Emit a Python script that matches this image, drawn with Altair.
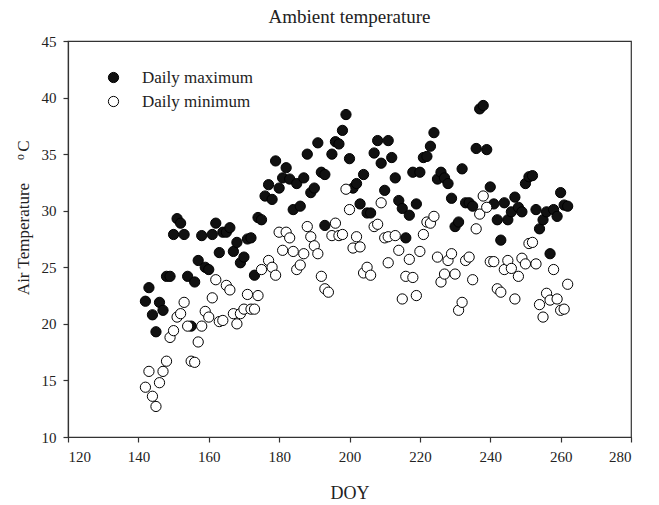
import altair as alt
import pandas as pd

max_doy = [142, 143, 144, 145, 146, 147, 148, 149, 150, 151, 152, 153, 154, 155, 156, 157,
           158, 159, 160, 161, 162, 163, 164, 165, 166, 167, 168, 169, 170, 171, 172, 173,
           174, 175, 176, 177, 178, 179, 180, 181, 182, 183, 184, 185, 186, 187, 188, 189,
           190, 191, 192, 193, 193, 195, 196, 197, 198, 199, 200, 201, 202, 203, 204, 205,
           206, 207, 208, 209, 210, 211, 212, 213, 214, 215, 216, 217, 218, 219, 220, 221,
           222, 223, 224, 225, 226, 227, 228, 229, 230, 231, 232, 233, 234, 235, 236, 237,
           238, 239, 240, 241, 242, 243, 244, 245, 246, 247, 248, 249, 250, 251, 252, 253,
           254, 255, 256, 257, 258, 259, 260, 261, 262]
max_temp = [22.0, 23.2, 20.8, 19.3, 21.9, 21.2, 24.2, 24.2, 27.9, 29.3, 28.9, 27.9, 24.2, 19.8, 23.7, 25.6,
            27.8, 25.0, 24.8, 27.9, 28.9, 26.3, 28.1, 28.1, 28.5, 26.4, 27.2, 25.4, 25.9, 27.5, 27.6, 24.3,
            29.4, 29.2, 31.3, 32.3, 31.0, 34.4, 32.0, 32.9, 33.8, 32.8, 30.1, 32.4, 30.4, 32.9, 35.0, 31.6,
            32.0, 36.0, 33.4, 33.2, 28.7, 35.0, 36.1, 35.9, 37.1, 38.5, 34.6, 32.0, 32.4, 30.6, 33.2, 29.8,
            29.8, 35.1, 36.2, 34.2, 31.8, 36.2, 34.7, 32.9, 30.9, 30.2, 27.6, 29.6, 33.4, 30.6, 33.4, 34.7,
            34.8, 35.7, 36.9, 32.8, 33.4, 32.9, 32.4, 31.1, 28.6, 29.0, 33.7, 30.7, 30.7, 30.4, 35.5, 39.0,
            39.3, 35.4, 32.1, 30.6, 29.2, 27.4, 30.7, 29.2, 29.9, 31.2, 30.3, 29.9, 32.4, 33.0, 33.1, 30.1,
            28.4, 29.2, 29.9, 26.2, 30.1, 29.5, 31.6, 30.5, 30.4]

min_doy = [142, 143, 144, 145, 146, 147, 148, 149, 150, 151, 152, 153, 154, 155, 156, 157,
           158, 159, 160, 161, 162, 163, 164, 165, 166, 167, 168, 169, 170, 171, 172, 173,
           174, 175, 177, 178, 179, 180, 181, 182, 183, 184, 185, 186, 187, 188, 189, 190,
           191, 192, 193, 194, 195, 196, 197, 198, 199, 200, 201, 202, 203, 204, 205, 206,
           207, 208, 209, 210, 211, 211, 213, 214, 215, 216, 217, 218, 219, 220, 221, 222,
           223, 224, 225, 226, 227, 228, 229, 230, 231, 232, 233, 234, 235, 236, 237, 238,
           239, 240, 241, 242, 243, 244, 245, 246, 247, 248, 249, 250, 251, 252, 253, 254,
           255, 256, 257, 258, 259, 260, 261, 262]
min_temp = [14.4, 15.8, 13.6, 12.7, 14.8, 15.8, 16.7, 18.8, 19.4, 20.6, 20.9, 21.9, 19.8, 16.7, 16.6, 18.4,
            19.8, 21.1, 20.6, 22.3, 23.9, 20.2, 20.3, 23.4, 23.0, 20.9, 20.0, 20.9, 21.3, 22.6, 21.3, 21.3,
            22.5, 24.8, 25.6, 25.0, 24.3, 28.1, 26.5, 28.1, 27.6, 26.4, 24.8, 25.2, 26.2, 28.6, 27.7, 26.9,
            26.2, 24.2, 23.1, 22.8, 27.8, 28.9, 27.8, 27.9, 31.9, 30.1, 26.7, 27.7, 26.8, 24.5, 25.0, 24.3,
            28.6, 28.8, 30.7, 27.6, 27.7, 25.4, 27.8, 26.5, 22.2, 24.2, 25.7, 24.1, 22.5, 26.4, 27.9, 29.0,
            28.9, 29.5, 25.9, 23.7, 24.4, 25.6, 26.2, 24.4, 21.2, 21.9, 25.6, 25.9, 23.9, 28.4, 29.7, 31.3,
            30.3, 25.5, 25.5, 23.1, 22.8, 24.8, 25.6, 24.9, 22.2, 24.2, 25.8, 25.3, 27.1, 27.2, 25.3, 21.7,
            20.6, 22.7, 22.1, 24.8, 22.2, 21.2, 21.3, 23.5]

series_names = ["Daily maximum", "Daily minimum"]
x_ticks = [120, 140, 160, 180, 200, 220, 240, 260, 280]
y_ticks = [10, 15, 20, 25, 30, 35, 40, 45]

df = pd.concat([
    pd.DataFrame({"DOY": max_doy, "T": max_temp, "Series": series_names[0]}),
    pd.DataFrame({"DOY": min_doy, "T": min_temp, "Series": series_names[1]}),
])

FONT = "Liberation Serif"

points = alt.Chart(df).mark_point(
    shape="circle", filled=True, size=105, stroke="black", strokeWidth=1, opacity=1
).encode(
    x=alt.X("DOY:Q", scale=alt.Scale(domain=[120, 280], nice=False, zero=False),
            axis=alt.Axis(values=x_ticks, title="DOY", titlePadding=20)),
    y=alt.Y("T:Q", scale=alt.Scale(domain=[10, 45], nice=False, zero=False),
            axis=alt.Axis(values=y_ticks, title=None)),
    fill=alt.Fill("Series:N", scale=alt.Scale(domain=series_names, range=["#111111", "white"]),
                  legend=alt.Legend(title=None, orient="none", legendX=37, legendY=28,
                                    symbolType="circle", symbolSize=105,
                                    symbolStrokeColor="black", symbolStrokeWidth=1,
                                    symbolOpacity=1, labelFont=FONT, labelFontSize=17,
                                    labelColor="#222", labelOffset=20, rowPadding=6,
                                    padding=0)),
)

ylab = alt.Chart(pd.DataFrame({"t": ["Air Temperature"]})).mark_text(
    angle=270, font=FONT, fontSize=17, color="#222", align="center", baseline="middle"
).encode(text="t:N", x=alt.value(-44), y=alt.value(198))

ylab_o = alt.Chart(pd.DataFrame({"t": ["o"]})).mark_text(
    angle=270, font=FONT, fontSize=12, color="#222", align="center", baseline="middle"
).encode(text="t:N", x=alt.value(-48), y=alt.value(116))

ylab_c = alt.Chart(pd.DataFrame({"t": ["C"]})).mark_text(
    angle=270, font=FONT, fontSize=17, color="#222", align="center", baseline="middle"
).encode(text="t:N", x=alt.value(-44), y=alt.value(105))

chart = alt.layer(points, ylab, ylab_o, ylab_c).properties(
    width=563, height=396,
    title=alt.TitleParams("Ambient temperature", font=FONT, fontSize=19, fontWeight="normal",
                          color="#222", anchor="middle", offset=7),
    autosize=alt.AutoSizeParams(type="none"),
    padding={"left": 68, "top": 41, "right": 28, "bottom": 68},
).configure_axis(
    grid=False, domainColor="#333", tickColor="#333", tickSize=5, domainWidth=1.2, tickWidth=1.2,
    labelFont=FONT, labelFontSize=15, labelColor="#222", labelPadding=7,
    titleFont=FONT, titleFontSize=18, titleFontWeight="normal", titleColor="#222",
).configure_view(stroke="#333", strokeWidth=1.2)

chart.save("out.html", embed_options={"renderer": "svg", "actions": False})
